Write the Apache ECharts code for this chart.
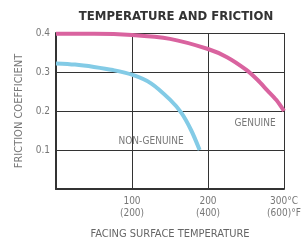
<!DOCTYPE html>
<html>
<head>
<meta charset="UTF-8" />
<title>Temperature and friction</title>
<script src="https://cdn.jsdelivr.net/npm/echarts@6/dist/echarts.min.js"></script>
<style>
  html, body { margin: 0; padding: 0; background: #fff; }
  #chart { width: 306px; height: 245px; }
</style>
</head>
<body>
<div id="chart"></div>
<script>
// temperature in deg C, friction coefficient
var genuine = [[0, 0.398], [50, 0.398], [100, 0.395], [150, 0.385], [200, 0.359], [225, 0.338],
  [250, 0.306], [265, 0.28], [278, 0.253], [290, 0.228], [300, 0.2]];
var nonGenuine = [[0, 0.322], [25, 0.319], [50, 0.313], [75, 0.305], [100, 0.293], [125, 0.271],
  [150, 0.229], [165, 0.195], [178, 0.15], [189, 0.1]];
var xTickLabels = { 100: '100\n(200)', 200: '200\n(400)', 300: '300°C\n(600)°F' };
var yTickLabels = { 0.1: '0.1', 0.2: '0.2', 0.3: '0.3', 0.4: '0.4' };

var font = '"Liberation Sans Narrow", "DejaVu Sans Condensed", sans-serif';
var myChart = echarts.init(document.getElementById('chart'));

function inPlotLabel(text) {
  return {
    show: true, position: 'inside', formatter: text,
    fontFamily: font, fontSize: 10, color: '#777'
  };
}

myChart.setOption({
  animation: false,
  title: {
    text: 'TEMPERATURE AND FRICTION',
    left: 171, top: 5, textAlign: 'center',
    textStyle: { fontFamily: font, fontSize: 13, fontWeight: 'bold', color: '#333' }
  },
  grid: { left: 56, right: 22, top: 33, bottom: 56 },
  xAxis: {
    type: 'value', min: 0, max: 300, interval: 100,
    name: 'FACING SURFACE TEMPERATURE',
    nameLocation: 'middle', nameGap: 40,
    nameTextStyle: { fontFamily: font, fontSize: 11, color: '#666' },
    axisLine: { lineStyle: { color: '#333', width: 2 } },
    axisTick: { show: false },
    axisLabel: {
      fontFamily: font, fontSize: 10, color: '#777', lineHeight: 12, margin: 6,
      formatter: function (v) { return xTickLabels[v] || ''; }
    },
    splitLine: { show: true, lineStyle: { color: '#333', width: 1 } }
  },
  yAxis: {
    type: 'value', min: 0, max: 0.4, interval: 0.1,
    name: 'FRICTION COEFFICIENT',
    nameLocation: 'middle', nameGap: 28, nameRotate: 90,
    nameTextStyle: { fontFamily: font, fontSize: 11, color: '#777' },
    axisLine: { show: true, lineStyle: { color: '#333', width: 2 } },
    axisTick: { show: false },
    axisLabel: {
      fontFamily: font, fontSize: 10, color: '#777', margin: 6,
      formatter: function (v) { return yTickLabels[Math.round(v * 10) / 10] || ''; }
    },
    splitLine: { show: true, lineStyle: { color: '#333', width: 1 } }
  },
  series: [{
    name: 'GENUINE', type: 'line', smooth: 0.3, symbol: 'none',
    data: genuine,
    lineStyle: { color: '#d9639f', width: 4 },
    markPoint: {
      symbol: 'rect', symbolSize: 1, itemStyle: { color: 'transparent' },
      label: inPlotLabel('GENUINE'),
      data: [{ coord: [262, 0.168] }]
    }
  }, {
    name: 'NON-GENUINE', type: 'line', smooth: 0.3, symbol: 'none',
    data: nonGenuine,
    lineStyle: { color: '#83cbe6', width: 4 },
    markPoint: {
      symbol: 'rect', symbolSize: 1, itemStyle: { color: 'transparent' },
      label: inPlotLabel('NON-GENUINE'),
      data: [{ coord: [125, 0.122] }]
    }
  }]
});
</script>
</body>
</html>
